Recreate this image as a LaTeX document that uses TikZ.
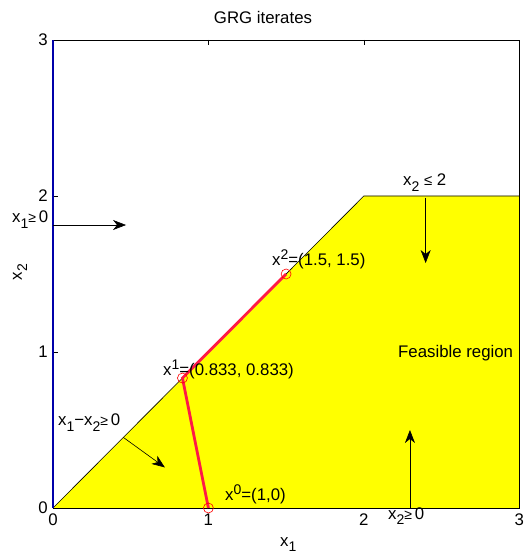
\documentclass[tikz,border=0pt]{standalone}
\usepackage{fontspec}
\setmainfont{Liberation Sans}
\usetikzlibrary{arrows.meta}
\newcommand{\lo}[1]{\raisebox{-0.6ex}{\fontsize{14pt}{14pt}\selectfont #1}}
\newcommand{\hi}[1]{\raisebox{0.75ex}{\fontsize{14pt}{14pt}\selectfont #1}}
\newcommand{\gesym}{{\fontsize{14pt}{14pt}\selectfont ≥}}
\newcommand{\lesym}{{\fontsize{15pt}{15pt}\selectfont ≤}}
\definecolor{feas}{RGB}{255,255,0}
\definecolor{axblue}{RGB}{0,0,170}
\definecolor{iter}{RGB}{255,25,70}
\begin{document}
\begin{tikzpicture}[x=155.4pt,y=156pt,
  font=\fontsize{16.8pt}{19pt}\selectfont,
  lbl/.style={inner sep=0pt, anchor=base west},
  tick/.style={line width=0.6pt},
  cons/.style={-{Stealth[length=13pt,width=10pt,inset=4pt]}, line width=0.6pt}]
\useasboundingbox (-53pt,-46pt) rectangle (473pt,508pt);
% ticks (under the feasible region, as in the reference)
\foreach \t in {1,2} {
  \draw[tick] (\t,0) -- ++(0,5pt);
  \draw[tick] (\t,3) -- ++(0,-5pt);
  \draw[tick] (0,\t) -- ++(5pt,0);
  \draw[tick] (3,\t) -- ++(-5pt,0);
}
% feasible region
\fill[feas] (0,0) -- (2,2) -- (3,2) -- (3,0) -- cycle;
\draw[line width=0.6pt] (0,0) -- (2,2) -- (3,2);
% axes box
\draw[line width=0.8pt] (0,0) rectangle (3,3);
\foreach \t in {0,1,2,3} {
  \node[anchor=north, inner sep=0pt] (xt\t) at ([yshift=-6pt]\t,0) {\t};
  \node[anchor=east, inner sep=0pt] (yt\t) at ([xshift=-5pt]0,\t) {\t};
}
\draw[axblue, line width=1.3pt] (0,0) -- (0,3);
% title and axis labels
\node[inner sep=0pt] (title) at (210pt,490pt) {GRG iterates};
\node[lbl] (xlab) at (227pt,-38pt) {x\lo{1}};
\node[inner sep=0pt, rotate=90] (ylab) at (-33pt,236pt) {x\lo{2}};
% constraint arrows
\coordinate (a1s) at (0,1.814);
\coordinate (a1e) at (0.47,1.814);
\draw[cons] (a1s) -- (a1e);
\coordinate (a2s) at (0.452,0.453);
\coordinate (a2e) at (0.72,0.26);
\draw[cons] (a2s) -- (a2e);
\coordinate (a3s) at (2.398,1.99);
\coordinate (a3e) at (2.398,1.57);
\draw[cons] (a3s) -- (a3e);
\coordinate (a4s) at (2.297,0);
\coordinate (a4e) at (2.297,0.5);
\draw[cons] (a4s) -- (a4e);
% constraint labels
\node[lbl] (c1) at (-41pt,285pt) {x\lo{1}\gesym\,0};
\node[lbl] (c2) at (5pt,82pt) {x\lo{1}−x\lo{2}\gesym\,0};
\node[lbl] (c3) at (350pt,322pt) {x\lo{2} \lesym\ 2};
\node[lbl] (c4) at (335pt,-11pt) {x\lo{2}\gesym\,0};
\node[lbl] (feasible) at (345pt,150pt) {Feasible region};
% iterates
\coordinate (x0) at (1,0);
\coordinate (x1) at (0.833,0.833);
\coordinate (x2) at (1.5,1.5);
\draw[iter, line width=2.8pt] (x0) -- (x1) -- (x2);
\foreach \p in {x0,x1,x2} \draw[red, line width=0.6pt] (\p) circle (5pt);
\node[lbl] (l0) at (172pt,7pt) {x\hi{0}=(1,0)};
\node[lbl] (l1) at (110pt,132pt) {x\hi{1}=(0.833, 0.833)};
\node[lbl] (l2) at (219pt,242pt) {x\hi{2}=(1.5, 1.5)};
\end{tikzpicture}
\end{document}
